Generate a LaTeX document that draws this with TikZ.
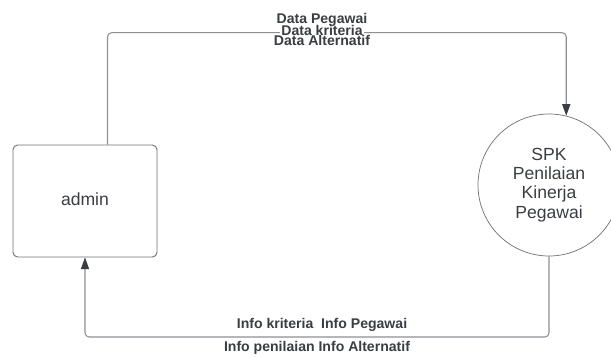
\documentclass[tikz,border=0pt]{standalone}
\usepackage{fontspec}
\setmainfont{Liberation Sans}
\usetikzlibrary{arrows.meta}

\definecolor{linegray}{HTML}{8C8F94}
\definecolor{edgegray}{HTML}{6E7075}
\definecolor{inkdark}{HTML}{3A3D42}

\begin{document}
\begin{tikzpicture}[x=0.03cm,y=-0.03cm,
  entity/.style={draw=edgegray,line width=0.8pt,rounded corners=4pt,
    minimum width=144*0.03cm,minimum height=112*0.03cm,inner sep=0pt},
  process/.style={draw=edgegray,line width=0.6pt,circle,minimum size=142*0.03cm,
    inner sep=0pt,align=center,font=\fontsize{15}{16.5}\selectfont},
  flow/.style={draw=linegray,line width=0.9pt,rounded corners=3.5pt,
    -{Triangle[length=10pt,width=7pt,color=inkdark]}},
  lbl/.style={text=inkdark,font=\bfseries\fontsize{12}{12}\selectfont,
    inner sep=1pt,anchor=base}]
\useasboundingbox (0,0) rectangle (611,356);
\tikzstyle{every node}+=[text=inkdark]

% external entity and process
\node[entity] (admin) at (85,201) {};
\node[text=inkdark,font=\fontsize{15}{15}\selectfont,anchor=base] (admintxt) at (85,205) {admin};
\node[process] (spk) at (549,185) {SPK\\Penilaian\\Kinerja\\Pegawai};

% corner points of the two flows
\coordinate (up) at (107.5,32.7);
\coordinate (down) at (85,337);

% admin -> spk
\draw[flow] (admin.north -| up) |- (spk.76 |- up) -- (spk.76);
% spk -> admin
\draw[flow] (spk.south) |- (down) -- (admin.south);

% flow labels
\node[lbl] (dpeg) at (322,23.3) {Data Pegawai};
\node[lbl,fill=white,inner ysep=0pt] (dkrit) at (322,35.7) {Data kriteria};
\node[lbl] (dalt) at (322,45.7) {Data Alternatif};
\node[lbl] (ikrit) at (322,328.3) {Info kriteria\ \ Info Pegawai};
\node[lbl] (inil) at (317,351.7) {Info penilaian Info Alternatif};
\end{tikzpicture}
\end{document}
